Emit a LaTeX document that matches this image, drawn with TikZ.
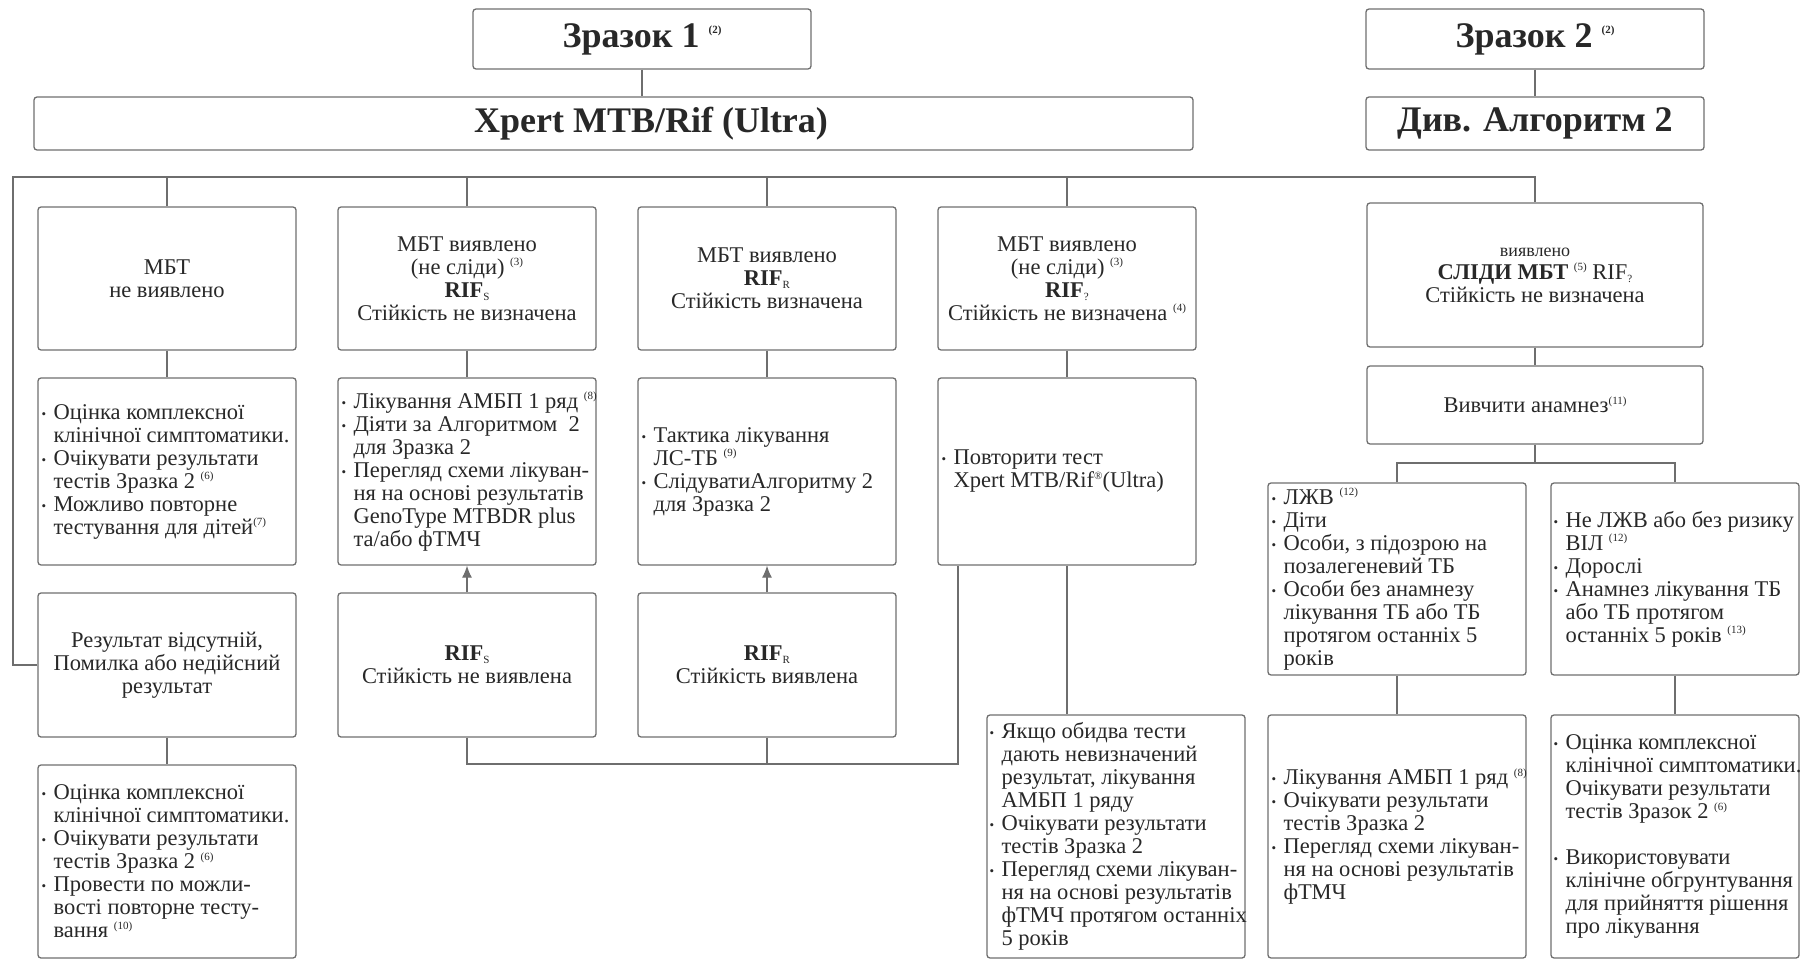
\documentclass[tikz,border=0pt]{standalone}
\usepackage{fontspec}
\setmainfont{Liberation Serif}
\usepackage{tikz}
\usetikzlibrary{
  calc,%
  arrows.meta,
  positioning
}

\definecolor{boxgray}{RGB}{110,110,110}
\definecolor{txtgray}{RGB}{40,40,40}

\newcommand{\bodyfont}{\fontsize{22.5}{23}\selectfont}
\newcommand{\headfont}{\fontsize{36}{38}\selectfont\bfseries}
\newcommand{\fnote}[1]{\raisebox{0.8ex}{\fontsize{11}{11}\selectfont(#1)}}
\newcommand{\rsub}[1]{\raisebox{-0.3ex}{\fontsize{11}{11}\selectfont\mdseries #1}}
\newcommand{\itm}{\makebox[12pt][l]{\raisebox{1pt}{\fontsize{13}{13}\selectfont\textbullet}}}
\newcommand{\cnt}{\hspace*{12pt}}

\tikzset{
  box/.style={draw=boxgray, line width=1.3pt, rounded corners=3pt,
    inner sep=0pt, align=center, font=\bodyfont, text=txtgray},
  head/.style={box, font=\headfont, minimum width=338, minimum height=#1},
  cell/.style={box, minimum width=258, minimum height=#1},
  wide/.style={box, minimum width=336, minimum height=#1},
  lst/.style={anchor=west, align=left, inner sep=0pt, font=\bodyfont, text=txtgray},
  link/.style={draw=boxgray, line width=1.2pt},
  uparrow/.style={link, -{Latex[length=12pt,width=10pt]}},
}

\begin{document}
\begin{tikzpicture}[x=1pt, y=-1pt]
  \useasboundingbox (0,0) rectangle (1802,960);

  % top
  \node[head=60] (z1) at (642,39) {Зразок 1 \fnote{2}};
  \node[head=60] (z2) at (1535,39) {Зразок 2 \fnote{2}};
  \node[box, minimum width=1159, minimum height=53] (xpert) at (613.5,123.5) {};
  \node[inner sep=0pt, font=\headfont, text=txtgray] (xpertlbl) at (651,123.5) {Xpert MTB/Rif (Ultra)};
  \node[head=53] (div) at (1535,123.5) {Див. Алгоритм 2};

  % first row
  \node[cell=143] (a1) at (167,278.5) {МБТ\\не виявлено};
  \node[cell=143] (b1) at (467,278.5) {МБТ виявлено\\(не сліди) \fnote{3}\\\textbf{RIF}\rsub{S}\\Стійкість не визначена};
  \node[cell=143] (c1) at (767,278.5) {МБТ виявлено\\\textbf{RIF}\rsub{R}\\Стійкість визначена};
  \node[cell=143] (d1) at (1067,278.5) {МБТ виявлено\\(не сліди) \fnote{3}\\\textbf{RIF}\rsub{?}\\Стійкість не визначена \fnote{4}};
  \node[wide=144] (e1) at (1535,275) {{\fontsize{18}{20}\selectfont виявлено}\\\textbf{СЛІДИ МБТ} \fnote{5} RIF\rsub{?}\\Стійкість не визначена};

  % second row
  \node[cell=187] (a2) at (167,471.5) {};
  \node[cell=187] (b2) at (467,471.5) {};
  \node[cell=187] (c2) at (767,471.5) {};
  \node[cell=187] (d2) at (1067,471.5) {};
  \node[wide=78] (e2) at (1535,405) {Вивчити анамнез\fnote{11}};
  \node[lst] (a2t) at ([xshift=4]a2.west) {\itm Оцінка комплексної\\\cnt клінічної симптоматики.\\\itm Очікувати результати\\\cnt тестів Зразка 2 \fnote{6}\\\itm Можливо повторне\\\cnt тестування для дітей\fnote{7}};
  \node[lst] (b2t) at ([xshift=4]b2.west) {\itm Лікування АМБП 1 ряд \fnote{8}\\\itm Діяти за Алгоритмом~ 2\\\cnt для Зразка 2\\\itm Перегляд схеми лікуван-\\\cnt ня на основі результатів\\\cnt GenoType MTBDR plus\\\cnt та/або фТМЧ};
  \node[lst] (c2t) at ([xshift=4]c2.west) {\itm Тактика лікування\\\cnt ЛС-ТБ \fnote{9}\\\itm СлідуватиАлгоритму 2\\\cnt для Зразка 2};
  \node[lst] (d2t) at ([xshift=4]d2.west) {\itm Повторити тест\\\cnt Xpert MTB/Rif\raisebox{0.8ex}{\fontsize{11}{11}\selectfont\textregistered}(Ultra)};

  % third row
  \node[cell=144] (a3) at (167,665) {Результат відсутній,\\Помилка або недійсний\\результат};
  \node[cell=144] (b3) at (467,665) {\textbf{RIF}\rsub{S}\\Стійкість не виявлена};
  \node[cell=144] (c3) at (767,665) {\textbf{RIF}\rsub{R}\\Стійкість виявлена};
  \node[cell=192] (f1) at (1397,579) {};
  \node[box, minimum width=248, minimum height=192] (g1) at (1675,579) {};
  \node[lst] (f1t) at ([xshift=4]f1.west) {\itm ЛЖВ \fnote{12}\\\itm Діти\\\itm Особи, з підозрою на\\\cnt позалегеневий ТБ\\\itm Особи без анамнезу\\\cnt лікування ТБ або ТБ\\\cnt протягом останніх 5\\\cnt років};
  \node[lst] (g1t) at ([xshift=3]g1.west) {\itm Не ЛЖВ або без ризику\\\cnt ВІЛ \fnote{12}\\\itm Дорослі\\\itm Анамнез лікування ТБ\\\cnt або ТБ протягом\\\cnt останніх 5 років \fnote{13}};

  % bottom row
  \node[cell=193] (a4) at (167,861.5) {};
  \node[cell=243] (d3) at (1116,836.5) {};
  \node[cell=243] (f2) at (1397,836.5) {};
  \node[box, minimum width=248, minimum height=243] (g2) at (1675,836.5) {};
  \node[lst] (a4t) at ([xshift=4]a4.west) {\itm Оцінка комплексної\\\cnt клінічної симптоматики.\\\itm Очікувати результати\\\cnt тестів Зразка 2 \fnote{6}\\\itm Провести по можли-\\\cnt вості повторне тесту-\\\cnt вання \fnote{10}};
  \node[lst] (d3t) at ([xshift=3]d3.west) {\itm Якщо обидва тести\\\cnt дають невизначений\\\cnt результат, лікування\\\cnt АМБП 1 ряду\\\itm Очікувати результати\\\cnt тестів Зразка 2\\\itm Перегляд схеми лікуван-\\\cnt ня на основі результатів\\\cnt фТМЧ протягом останніх\\\cnt 5 років};
  \node[lst] (f2t) at ([xshift=4]f2.west) {\itm Лікування АМБП 1 ряд \fnote{8}\\\itm Очікувати результати\\\cnt тестів Зразка 2\\\itm Перегляд схеми лікуван-\\\cnt ня на основі результатів\\\cnt фТМЧ};
  \node[lst] (g2t) at ([xshift=3]g2.west) {\itm Оцінка комплексної\\\cnt клінічної симптоматики.\\\cnt Очікувати результати\\\cnt тестів Зразок 2 \fnote{6}\\[23pt]\itm Використовувати\\\cnt клінічне обгрунтування\\\cnt для прийняття рішення\\\cnt про лікування};

  % connectors
  \coordinate (busL) at (13,177);
  \coordinate (busR) at (1535,177);
  \coordinate (ret) at (958,764);
  \coordinate (split) at (1535,463);

  \draw[link] (z1.south) -- (z1.south |- xpert.north);
  \draw[link] (z2.south) -- (div.north);
  \draw[link] (a3.west) -| (busL) -- (busR) -- (e1.north);
  \foreach \n in {a1,b1,c1,d1}
    \draw[link] (\n.north) -- (\n.north |- busL);
  \foreach \u/\v in {a1/a2,b1/b2,c1/c2,d1/d2,a3/a4,e1/e2,f1/f2,g1/g2}
    \draw[link] (\u.south) -- (\u.south |- \v.north);
  \draw[uparrow] (b3.north) -- (b2.south);
  \draw[uparrow] (c3.north) -- (c2.south);
  \draw[link] (b3.south) |- (ret) -- (ret |- d2.south);
  \draw[link] (c3.south) -- (c3.south |- ret);
  \draw[link] (d2.south) -- (d2.south |- d3.north);
  \draw[link] (e2.south) -- (split);
  \draw[link] (f1.north) |- (split) -| (g1.north);
\end{tikzpicture}
\end{document}
